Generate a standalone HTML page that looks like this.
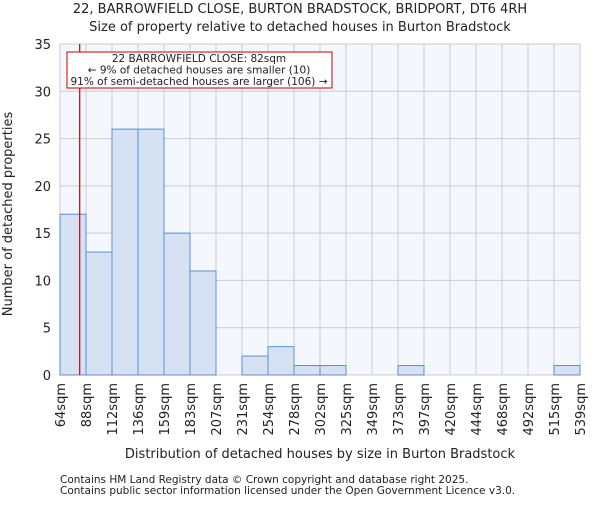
<!DOCTYPE html>
<html><head><meta charset="utf-8"><style>
body{margin:0;background:#fff;font-family:"Liberation Sans","DejaVu Sans",sans-serif}
svg text{font-family:"DejaVu Sans","Liberation Sans",sans-serif;fill:#222}
</style></head><body>
<svg id="c" width="600" height="500">
<text x="300" y="13" text-anchor="middle" font-size="13">22, BARROWFIELD CLOSE, BURTON BRADSTOCK, BRIDPORT, DT6 4RH</text>
<text x="300" y="31" text-anchor="middle" font-size="13">Size of property relative to detached houses in Burton Bradstock</text>
<rect x="60" y="44" width="520" height="331" fill="#f4f7fd"/>
<g id="grid"></g><g id="bars"></g><g id="xt"></g><g id="yt"></g>
<line id="marker" y1="44" y2="375" stroke="#cc0000" stroke-width="1.2"/>
<rect x="67" y="52" width="265" height="36" fill="#fff" stroke="#cc0000"/>
<text x="199" y="62" text-anchor="middle" font-size="10.5">22 BARROWFIELD CLOSE: 82sqm</text>
<text x="199" y="73.5" text-anchor="middle" font-size="10.5">← 9% of detached houses are smaller (10)</text>
<text x="199" y="85" text-anchor="middle" font-size="10.5">91% of semi-detached houses are larger (106) →</text>
<text x="320" y="458" text-anchor="middle" font-size="13">Distribution of detached houses by size in Burton Bradstock</text>
<text transform="translate(12,214) rotate(-90)" text-anchor="middle" font-size="13">Number of detached properties</text>
<text x="60" y="483" font-size="10.5" fill="#444">Contains HM Land Registry data © Crown copyright and database right 2025.</text>
<text x="60" y="494" font-size="10.5" fill="#444">Contains public sector information licensed under the Open Government Licence v3.0.</text>
</svg>
<script>
const binLabels=["64sqm","88sqm","112sqm","136sqm","159sqm","183sqm","207sqm","231sqm","254sqm","278sqm","302sqm","325sqm","349sqm","373sqm","397sqm","420sqm","444sqm","468sqm","492sqm","515sqm","539sqm"];
const counts=[17,13,26,26,15,11,0,2,3,1,1,0,0,1,0,0,0,0,0,1];
const yTicks=[0,5,10,15,20,25,30,35];
const propertySize=82;
const binStart=64, binWidth=23.75;
const NS="http://www.w3.org/2000/svg";
const X0=60,X1=580,Y0=375,Y1=44,YMAX=35;
const xs=i=>X0+i*(X1-X0)/counts.length;
const ys=v=>Y0-v*(Y0-Y1)/YMAX;
function mk(t,a,p){const e=document.createElementNS(NS,t);for(const k in a)e.setAttribute(k,a[k]);document.getElementById(p).appendChild(e);return e;}
yTicks.forEach(v=>{
 const l=mk("line",{x1:X0,x2:X1,y1:ys(v),y2:ys(v),stroke:"#cccccc"},"grid");
 
 
 const t=mk("text",{x:X0-9,y:ys(v)+5,"text-anchor":"end","font-size":"13"},"yt");t.textContent=v;
 
 
});
binLabels.forEach((s,i)=>{
 const l=mk("line",{x1:xs(i),x2:xs(i),y1:Y1,y2:Y0,stroke:"#cccccc"},"grid");
 
 
 const t=mk("text",{transform:`translate(${xs(i)+5},${Y0+8}) rotate(-90)`,"text-anchor":"end","font-size":"13"},"xt");t.textContent=s;
 
 
});
counts.forEach((c,i)=>{
 if(!c)return;
 const r=mk("rect",{x:xs(i),y:ys(c),width:xs(i+1)-xs(i),height:Y0-ys(c),fill:"#d6e2f4",stroke:"#5a8fd6","stroke-width":"1"},"bars");
 
 
});
const mx=xs((propertySize-binStart)/binWidth);
const m=document.getElementById("marker");m.setAttribute("x1",mx);m.setAttribute("x2",mx);
</script>
</body></html>
